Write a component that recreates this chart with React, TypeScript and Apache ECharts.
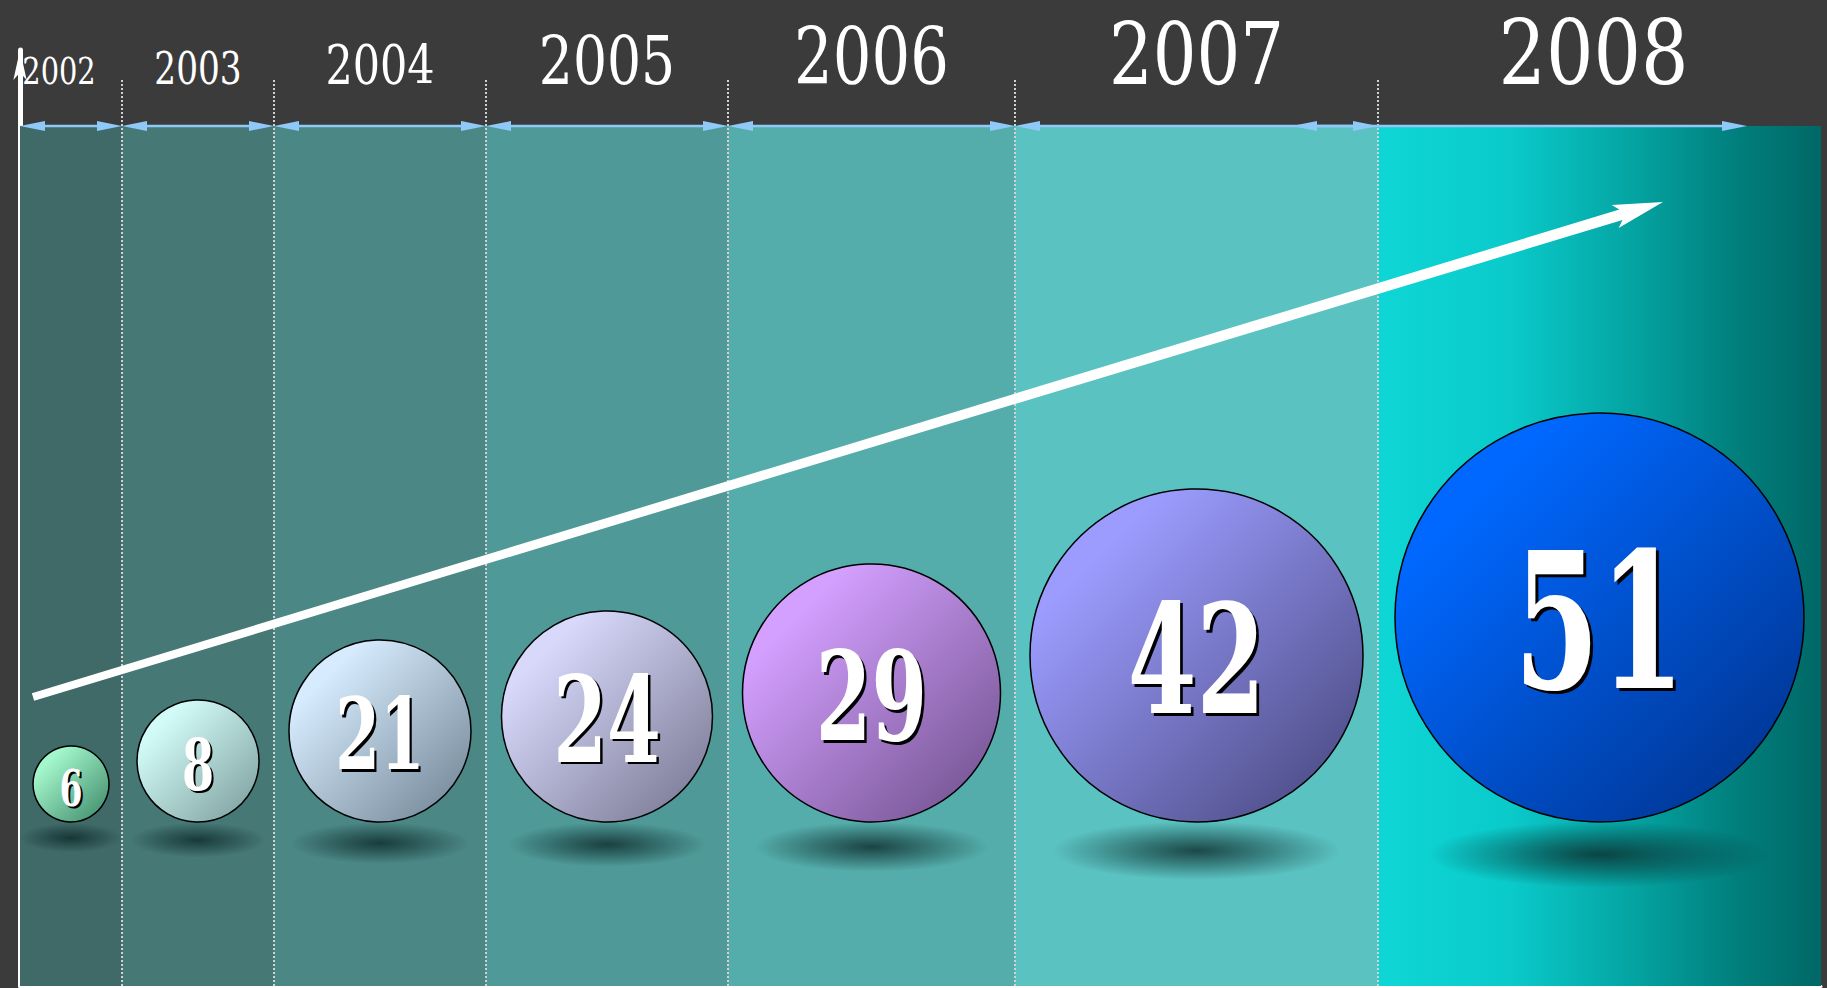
import React, { useEffect, useRef } from 'react';
import * as echarts from 'echarts';

// ---- data ----
const years = ['2002', '2003', '2004', '2005', '2006', '2007', '2008'];
const values = [6, 8, 21, 24, 29, 42, 51];

// ---- layout / style (axis units are px-like) ----
const columnWidths = [102, 152, 212, 242, 287, 363, 443];
const bubbleDiameters = [76, 122, 182, 211, 258, 333, 409];
const valueFontSizes = [51, 71, 99, 119, 123, 152, 189];
const yearFontSizes = [38, 44, 55, 67, 78, 86, 89];
const yearScaleX = [0.76, 0.78, 0.78, 0.8, 0.78, 0.8, 0.84];
const yearShift = [-12, 0, 0, 0, 0, 0, -6];
const spanOffsets = [[0, 0], [0, 0], [0, 0], [0, 0], [0, 0], [0, 0], [-86, -74]];
const panelColors = ['#406a68', '#467876', '#4b8785', '#4f9a98', '#54adab', '#5ac2c1'];
const bubbleColors = [
  ['#a4f7cc', '#3a8565'],
  ['#d2fbf7', '#789a98'],
  ['#d6ebfd', '#6b7f8f'],
  ['#d8d8fb', '#72728c'],
  ['#d4a0ff', '#6a4c86'],
  ['#9c9cff', '#434378'],
  ['#0068ff', '#002f85'],
];
const trendLine = [13, 289, 1643, 784];

const PANEL_TOP = 860;
const BASE_Y = 164;
const YEAR_BASE = 902;
const SEP_TOP = 906;
const ARROW_Y = 860;
const FONT = '"DejaVu Serif", "Liberation Serif", serif';

const edges: number[] = columnWidths.reduce((acc: number[], w) => { acc.push(acc[acc.length - 1] + w); return acc; }, [0]);

function panelFill(i: number) {
  if (i < panelColors.length) return panelColors[i];
  return new echarts.graphic.LinearGradient(0, 0, 1, 0, [
    { offset: 0, color: '#0fd6d6' },
    { offset: 0.3, color: '#0acaca' },
    { offset: 0.58, color: '#04a3a1' },
    { offset: 0.8, color: '#01807e' },
    { offset: 1, color: '#006866' },
  ]);
}

function textEl(text: string, x: number, y: number, fs: number, sx: number, fill: string, weight: string) {
  return {
    type: 'text',
    x, y, scaleX: sx,
    style: {
      text, fill, font: `${weight} ${fs}px ${FONT}`,
      align: 'center', verticalAlign: 'middle',
      textAlign: 'center', textVerticalAlign: 'middle',
    },
  };
}

function renderColumn(params: any, api: any) {
  const i = params.dataIndex;
  const x0 = api.value(0);
  const x1 = api.value(1);
  const v = api.value(2);
  const tl = api.coord([x0, PANEL_TOP]);
  const br = api.coord([x1, 0]);
  const children: any[] = [];
  children.push({
    type: 'rect',
    shape: { x: tl[0], y: tl[1], width: br[0] - tl[0], height: br[1] - tl[1] },
    style: { fill: panelFill(i) },
  });
  if (i > 0) {
    const s = api.coord([x0, SEP_TOP]);
    children.push({
      type: 'line',
      shape: { x1: s[0], y1: s[1], x2: s[0], y2: br[1] },
      style: { stroke: '#d2d2d2', lineWidth: 2, lineDash: [2, 2] },
    });
  }
  // top double arrow
  const a0 = api.coord([x0 + spanOffsets[i][0], ARROW_Y]);
  const a1 = api.coord([x1 + spanOffsets[i][1], ARROW_Y]);
  const ay = a0[1];
  const ac = '#8fc9f7';
  children.push({ type: 'line', shape: { x1: a0[0] + 10, y1: ay, x2: a1[0] - 10, y2: ay }, style: { stroke: ac, lineWidth: 2.5 } });
  children.push({ type: 'polygon', shape: { points: [[a0[0], ay], [a0[0] + 25, ay - 5], [a0[0] + 25, ay + 5]] }, style: { fill: ac } });
  children.push({ type: 'polygon', shape: { points: [[a1[0], ay], [a1[0] - 25, ay - 5], [a1[0] - 25, ay + 5]] }, style: { fill: ac } });

  // year label
  const cx = (tl[0] + br[0]) / 2;
  const yb = api.coord([x0, YEAR_BASE])[1];
  const yfs = yearFontSizes[i];
  children.push(textEl(years[i], cx + yearShift[i], yb - 0.35 * yfs, yfs, yearScaleX[i], '#ffffff', 'normal'));

  // shadow
  const d = bubbleDiameters[i];
  const r = d / 2;
  const base = api.coord([x0, BASE_Y])[1];
  const srx = (0.72 * d + 48) / 2;
  const sry = (1.4 * (0.08 * d + 15)) / 2;
  children.push({
    type: 'circle',
    x: cx, y: base + 0.05 * d + 12,
    scaleY: sry / srx,
    shape: { cx: 0, cy: 0, r: srx },
    style: {
      fill: new echarts.graphic.RadialGradient(0.5, 0.5, 0.5, [
        { offset: 0, color: 'rgba(12,42,42,0.8)' },
        { offset: 0.45, color: 'rgba(12,42,42,0.45)' },
        { offset: 1, color: 'rgba(12,42,42,0)' },
      ]),
    },
  });
  // bubble
  const cy = base - r;
  children.push({
    type: 'circle',
    shape: { cx, cy, r },
    style: {
      fill: new echarts.graphic.LinearGradient(0, 0, 1, 1, [
        { offset: 0, color: bubbleColors[i][0] },
        { offset: 0.2, color: bubbleColors[i][0] },
        { offset: 1, color: bubbleColors[i][1] },
      ]),
      stroke: '#000000',
      lineWidth: 1.5,
    },
  });
  const vfs = valueFontSizes[i];
  const off = 1.5 + vfs * 0.008;
  children.push(textEl(String(v), cx + off, cy + 4 + off, vfs, 0.65, '#000000', 'bold'));
  children.push(textEl(String(v), cx, cy + 4, vfs, 0.65, '#ffffff', 'bold'));
  return { type: 'group', children };
}

function renderTrend(params: any, api: any) {
  const s = api.coord([api.value(0), api.value(1)]);
  const t = api.coord([api.value(2), api.value(3)]);
  const dx = t[0] - s[0];
  const dy = t[1] - s[1];
  const len = Math.sqrt(dx * dx + dy * dy);
  const u = [dx / len, dy / len];
  const n = [-u[1], u[0]];
  const P = (b: number[], along: number, perp: number) => [b[0] + u[0] * along + n[0] * perp, b[1] + u[1] * along + n[1] * perp];
  const pts = [
    P(s, 0, -4),
    P(t, -44, -5.5),
    P(t, -50, -12),
    P(t, 0, 0),
    P(t, -50, 12),
    P(t, -44, 5.5),
    P(s, 0, 4),
  ];
  return { type: 'polygon', shape: { points: pts }, style: { fill: '#ffffff' } };
}

const option: any = {
  animation: false,
  backgroundColor: '#3b3b3b',
  grid: { left: 20, right: 6, top: 50, bottom: 2 },
  xAxis: {
    type: 'value', min: 0, max: edges[edges.length - 1],
    axisLine: { show: true, symbol: ['none', 'arrow'], symbolSize: [10, 24], lineStyle: { color: '#ffffff', width: 3 } },
    axisTick: { show: false }, axisLabel: { show: false }, splitLine: { show: false },
  },
  yAxis: {
    type: 'value', min: 0, max: 936, offset: 3,
    axisLine: { show: true, symbol: ['none', 'arrow'], symbolSize: [10, 30], lineStyle: { color: '#ffffff', width: 5 } },
    axisTick: { show: false }, axisLabel: { show: false }, splitLine: { show: false },
  },
  series: [
    {
      type: 'custom',
      clip: false,
      silent: true,
      renderItem: renderColumn,
      data: years.map((y, i) => ({ name: y, value: [edges[i], edges[i + 1], values[i]] })),
      z: 1,
    },
    {
      type: 'custom',
      clip: false,
      silent: true,
      renderItem: renderTrend,
      data: [trendLine],
      z: 3,
    },
  ],
};

export default function App() {
  const ref = useRef<HTMLDivElement>(null);
  useEffect(() => {
    document.body.style.margin = '0';
    const chart = echarts.init(ref.current!, null, { renderer: 'svg' });
    chart.setOption(option);
    return () => chart.dispose();
  }, []);
  return <div ref={ref} style={{ position: 'fixed', left: 0, top: 0, width: 1827, height: 988 }} />;
}
